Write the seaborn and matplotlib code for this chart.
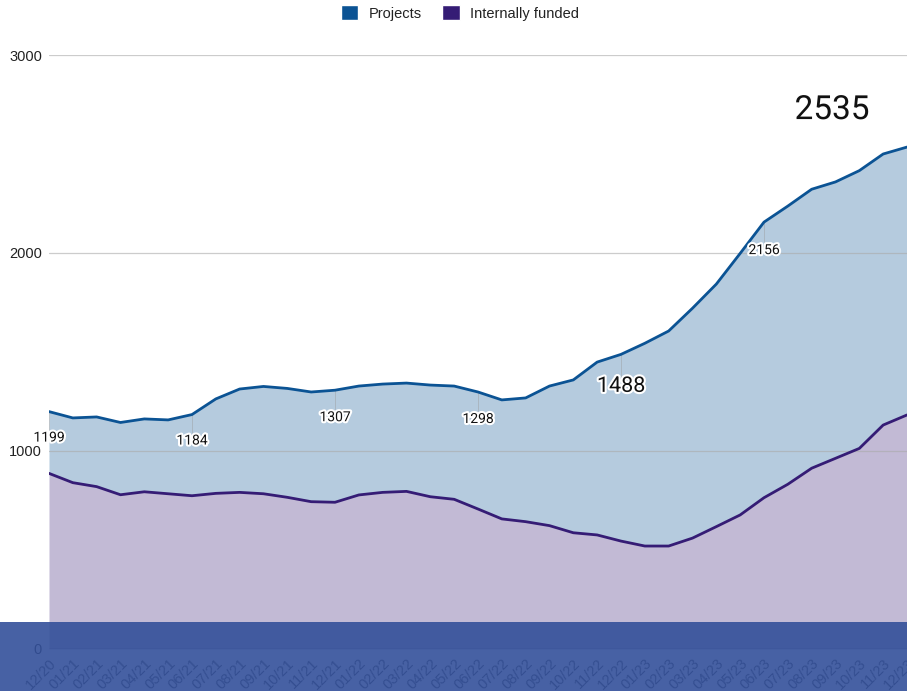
import pandas as pd
import numpy as np
import matplotlib
matplotlib.use("Agg")
import matplotlib.pyplot as plt
import seaborn as sns
from matplotlib.patches import Patch, Rectangle
import matplotlib.patheffects as pe

# ====================== data ======================

months = ["12/20", "01/21", "02/21", "03/21", "04/21", "05/21", "06/21", "07/21", "08/21",
          "09/21", "10/21", "11/21", "12/21", "01/22", "02/22", "03/22", "04/22", "05/22",
          "06/22", "07/22", "08/22", "09/22", "10/22", "11/22", "12/22", "01/23", "02/23",
          "03/23", "04/23", "05/23", "06/23", "07/23", "08/23", "09/23", "10/23", "11/23",
          "12/23"]

projects = [1199, 1167, 1172, 1144, 1162, 1157, 1184, 1263, 1313, 1326, 1316, 1298, 1307,
            1328, 1338, 1343, 1333, 1328, 1298, 1258, 1268, 1328, 1359, 1449, 1488, 1544,
            1606, 1721, 1843, 1998, 2156, 2237, 2322, 2359, 2416, 2500, 2535]

internal = [887, 840, 820, 779, 794, 784, 774, 786, 791, 784, 766, 744, 741, 778, 791, 796,
            769, 756, 707, 657, 643, 623, 587, 576, 545, 520, 520, 560, 618, 677, 764, 832,
            913, 963, 1013, 1131, 1182]

# labelled points: (month, text, font size, dx px, dy px)
labels = [("12/20", "1199", 10, 0, -26), ("06/21", "1184", 10, 0, -26),
          ("12/21", "1307", 10, 0, -27), ("06/22", "1298", 10, 0, -27),
          ("12/22", "1488", 15.5, 0, -32), ("06/23", "2156", 10, 0, -28),
          ("12/23", "2535", 24, -75, 37)]

df = pd.DataFrame({"idx": range(len(months)), "month": months,
                   "Projects": projects, "Internally funded": internal})

blue = "#0b5394"
purple = "#351c75"

# ====================== plot ======================

sns.set_style("white")
plt.rcParams["font.family"] = ["Liberation Sans", "DejaVu Sans"]

fig = plt.figure(figsize=(9.07, 6.91), dpi=100)
ax = fig.add_axes([0.054, 0.0608, 0.946, 0.8596])

ax.fill_between(df["idx"], df["Internally funded"], df["Projects"], color=blue, alpha=0.3,
                linewidth=0, zorder=1)
ax.fill_between(df["idx"], 0, df["Internally funded"], color=purple, alpha=0.3,
                linewidth=0, zorder=1)

for y in [1000, 2000, 3000]:
    ax.axhline(y, color="#aaaaaa", lw=0.9, alpha=0.6, zorder=2)

sns.lineplot(data=df, x="idx", y="Projects", color=blue, lw=2, ax=ax, zorder=3)
sns.lineplot(data=df, x="idx", y="Internally funded", color=purple, lw=2, ax=ax, zorder=3)
ax.axhline(0, color="#333333", lw=1, zorder=4)

ax.set_xlim(0, len(months) - 1)
ax.set_ylim(0, 3000)
ax.set_yticks([0, 1000, 2000, 3000])
ax.set_yticklabels(["0", "1000", "2000", "3000"], fontsize=10.5, color="#222222")
ax.set_xticks(df["idx"])
ax.set_xticklabels(months, rotation=45, ha="right", rotation_mode="anchor",
                   fontsize=10.5, color="#444444")
ax.tick_params(axis="both", length=0, pad=5)
ax.set_xlabel("")
ax.set_ylabel("")
for s in ax.spines.values():
    s.set_visible(False)

for m, txt, fs, dx, dy in labels:
    i = months.index(m)
    v = projects[i]
    if dy < 0:
        ax.plot([i, i], [v, v - 1000 * (abs(dy) - 8) / 198], color="#999999", lw=0.6,
                alpha=0.5, zorder=2)
    t = ax.annotate(txt, (i, v), xytext=(dx, dy), textcoords="offset pixels",
                    ha="center", va="center", fontsize=fs, color="#111111", zorder=6,
                    family=["Roboto", "DejaVu Sans"], annotation_clip=False)
    t.set_path_effects([pe.withStroke(linewidth=3, foreground="white")])

handles = [Patch(facecolor=blue, label="Projects"),
           Patch(facecolor=purple, label="Internally funded")]
fig.legend(handles=handles, loc="center", bbox_to_anchor=(0.507, 0.981), ncol=2,
           frameon=False, fontsize=10.5, handlelength=1.2, handleheight=1.2,
           columnspacing=1.4, handletextpad=0.7, labelcolor="#222222")

# dark band across the bottom of the picture
fig.patches.append(Rectangle((0, 0), 1, 0.0998, transform=fig.transFigure,
                             facecolor="#33509a", alpha=0.9, linewidth=0, zorder=10))

fig.savefig("out.png", dpi=100)
